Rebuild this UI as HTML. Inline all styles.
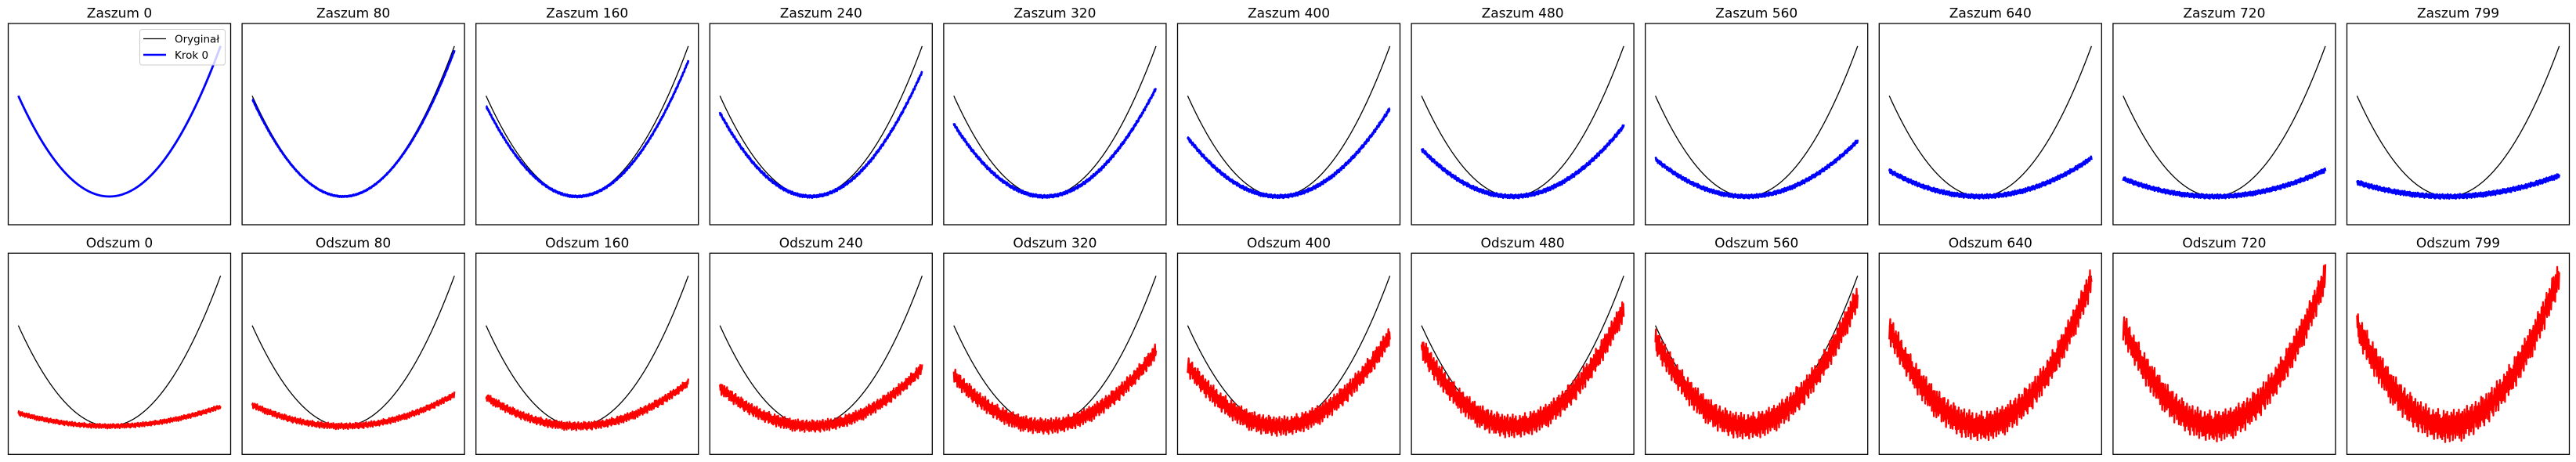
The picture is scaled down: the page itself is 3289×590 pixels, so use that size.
<!DOCTYPE html>
<html><head><meta charset="utf-8"><style>
html,body{margin:0;padding:0;background:#fff;}
svg{display:block;font-family:"DejaVu Sans","Liberation Sans",sans-serif;}
</style></head><body>
<svg id="fig" width="3289" height="590" viewBox="0 0 3289 590" xmlns="http://www.w3.org/2000/svg"></svg>
<script>
const steps = [0, 80, 160, 240, 320, 400, 480, 560, 640, 720, 799];
const xDomain = [-2.25, 2.75];
const yDomain = [-1.42, 8.7];
const forwardScale = [1.0, 0.97, 0.9, 0.83, 0.72, 0.585, 0.47, 0.37, 0.255, 0.177, 0.14];
const forwardNoise = [0.0, 0.03, 0.05, 0.07, 0.08, 0.09, 0.1, 0.1, 0.11, 0.11, 0.12];
const reverseScale = [0.13, 0.21, 0.29, 0.385, 0.5, 0.6, 0.78, 0.86, 0.97, 0.99, 1.0];
const reverseNoise = [0.12, 0.16, 0.22, 0.32, 0.42, 0.52, 0.62, 0.7, 0.78, 0.82, 0.85];
const noise = [0.3,-0.8,0.5,-0.2,0.9,-0.6,0.1,-0.95,0.7,-0.4,0.2,0.85,-0.7,0.4,-0.1,0.6,-0.9,0.35,-0.5,0.8,
-0.25,0.65,-0.85,0.15,0.95,-0.45,0.05,-0.75,0.55,-0.3,0.75,-0.6,0.25,-0.05,0.9,-0.8,0.45,-0.35,0.6,-1.0,
0.2,0.7,-0.55,0.1,-0.9,0.8,-0.15,0.5,-0.65,0.35,0.95,-0.4,-0.05,0.6,-0.85,0.3,-0.2,0.75,-0.7,0.15,
0.85,-0.5,0.4,-0.95,0.05,0.65,-0.3,0.9,-0.6,0.25,-0.1,0.55,-0.8,0.7,-0.35,0.45,-0.75,0.1,0.95,-0.45,
-0.2,0.8,-0.65,0.3,-0.9,0.6,0.0,-0.55,0.85,-0.25,0.4,-0.7,0.2,0.75,-0.95,0.5,-0.15,0.65,-0.4,0.9,
-0.6,0.35,-0.85,0.1,0.7,-0.3,0.55,-0.75,0.25,0.95,-0.5,0.15,-0.9,0.6,-0.05,0.8,-0.45,0.4,-0.7,0.3,
0.45,-0.65,0.1,0.8,-0.3,-0.9,0.55,0.2,-0.45,0.7,-0.1,0.35,-0.8,0.95,-0.55,0.05,0.6,-0.25,-0.7,0.4];
const nPts = 400;

const svg = document.getElementById('fig');
const NS = 'http://www.w3.org/2000/svg';
const rowTop = [30, 323.3];
const panelH = 257, panelW = 284, left0 = 10.5, pitch = 298.6;

function mk(tag, attrs, parent) {
  const e = document.createElementNS(NS, tag);
  for (const k in attrs) e.setAttribute(k, attrs[k]);
  parent.appendChild(e);
  return e;
}
function xs(px, v) { return px + 12.9 + (v - xDomain[0]) / (xDomain[1] - xDomain[0]) * (panelW - 25.8); }
function ys(py, v) { return py + (yDomain[1] - v) / (yDomain[1] - yDomain[0]) * panelH; }
function xAt(i) { return xDomain[0] + (xDomain[1] - xDomain[0]) * i / (nPts - 1); }

function pathFor(px, py, scale, amp, shift) {
  let d = '';
  for (let i = 0; i < nPts; i++) {
    const x = xAt(i);
    const v = scale * x * x + amp * noise[(i + shift) % noise.length];
    d += (i ? 'L' : 'M') + xs(px, x).toFixed(2) + ' ' + ys(py, v).toFixed(2);
  }
  return d;
}
function origPath(px, py) {
  let d = '';
  for (let i = 0; i < nPts; i++) {
    const x = xAt(i);
    d += (i ? 'L' : 'M') + xs(px, x).toFixed(2) + ' ' + ys(py, x * x).toFixed(2);
  }
  return d;
}

for (let r = 0; r < 2; r++) {
  for (let c = 0; c < steps.length; c++) {
    const px = left0 + c * pitch, py = rowTop[r];
    const g = mk('g', {}, svg);
    
    
    const t = mk('text', {x: px + panelW / 2, y: py - 7.5, 'text-anchor': 'middle', 'font-size': '17', fill: '#000'}, g);
    t.textContent = (r === 0 ? 'Zaszum ' : 'Odszum ') + steps[c];
    
    
    const o = mk('path', {d: origPath(px, py), fill: 'none', stroke: '#000', 'stroke-width': '1.3'}, g);
    
    
    const s = r === 0
      ? mk('path', {d: pathFor(px, py, forwardScale[c], forwardNoise[c], c * 7), fill: 'none', stroke: '#0000ff', 'stroke-width': '2.8', 'stroke-linejoin': 'round'}, g)
      : mk('path', {d: pathFor(px, py, reverseScale[c], reverseNoise[c], c * 11 + 3), fill: 'none', stroke: '#ff0000', 'stroke-width': '2.3', 'stroke-linejoin': 'round'}, g);
    
    
    const f = mk('rect', {x: px, y: py, width: panelW, height: panelH, fill: 'none', stroke: '#000', 'stroke-width': '1.3'}, g);
    
    
    if (r === 0 && c === 0) {
      const lg = mk('g', {}, g);
      
      
      mk('rect', {x: 178.5, y: 37.5, width: 109, height: 45.5, rx: 3, fill: 'rgba(255,255,255,0.8)', stroke: '#ccc', 'stroke-width': '1'}, lg);
      const l1 = mk('line', {x1: 183, y1: 49.5, x2: 212, y2: 49.5, stroke: '#000', 'stroke-width': '1.3'}, lg);
      
      
      const t1 = mk('text', {x: 223, y: 54.5, 'font-size': '13.5', fill: '#000'}, lg);
      t1.textContent = 'Oryginał';
      const l2 = mk('line', {x1: 183, y1: 70, x2: 212, y2: 70, stroke: '#0000ff', 'stroke-width': '2.6'}, lg);
      
      
      const t2 = mk('text', {x: 223, y: 75, 'font-size': '13.5', fill: '#000'}, lg);
      t2.textContent = 'Krok 0';
    }
  }
}
</script>
</body></html>
